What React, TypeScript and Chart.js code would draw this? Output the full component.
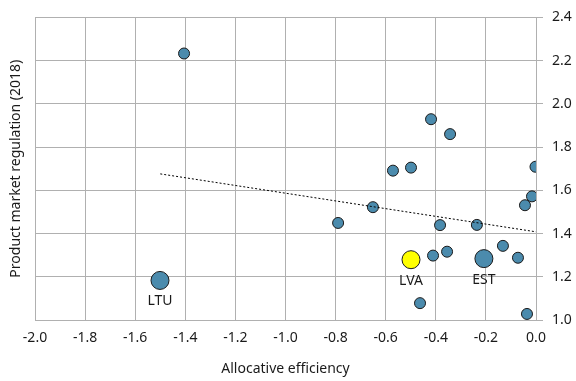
import React, { useEffect, useRef } from "react";
import { Chart, registerables } from "chart.js";

Chart.register(...registerables);

const smallX = [-1.405, -0.419, -0.343, -0.571, -0.499, -0.002, -0.79, -0.651, -0.383, -0.236, -0.044, -0.016, -0.132, -0.411, -0.355, -0.072, -0.463, -0.036];
const smallY = [2.233, 1.929, 1.86, 1.691, 1.705, 1.709, 1.449, 1.522, 1.439, 1.44, 1.531, 1.572, 1.343, 1.298, 1.316, 1.288, 1.078, 1.028];

const bigLabels = ["LTU", "EST"];
const bigX = [-1.501, -0.208];
const bigY = [1.183, 1.284];

const lvaLabel = "LVA";
const lvaX = [-0.499];
const lvaY = [1.279];

const trendX = [-1.5, 0.0];
const trendY = [1.676, 1.408];

const xTicks = [-2.0, -1.8, -1.6, -1.4, -1.2, -1.0, -0.8, -0.6, -0.4, -0.2, 0.0];
const yTicks = [1.0, 1.2, 1.4, 1.6, 1.8, 2.0, 2.2, 2.4];

const FONT = "'Noto Sans', 'Open Sans', sans-serif";
const TEXT = "#1a1a1a";
const GRID = "#b0b0b0";
const BLUE = "rgb(75,139,173)";
const FS = 14;

const labelPlugin = {
  id: "pointLabels",
  afterDatasetsDraw(chart: any) {
    const ctx = chart.ctx;
    const xs = chart.scales.x;
    const ys = chart.scales.y;
    ctx.save();
    ctx.font = `${FS}px ${FONT}`;
    ctx.fillStyle = TEXT;
    ctx.textAlign = "center";
    ctx.textBaseline = "middle";
    const items: [string, number, number][] = [];
    bigLabels.forEach((l, i) => items.push([l, bigX[i], bigY[i]]));
    items.push([lvaLabel, lvaX[0], lvaY[0]]);
    items.forEach(([l, x, y]) => {
      ctx.fillText(l, xs.getPixelForValue(x), ys.getPixelForValue(y) + 21);
    });
    ctx.restore();
  },
};

export default function App() {
  const ref = useRef<HTMLCanvasElement>(null);
  useEffect(() => {
    document.body.style.margin = "0";
    const chart = new Chart(ref.current!, {
      type: "scatter",
      data: {
        datasets: [
          {
            type: "line",
            data: trendX.map((x, i) => ({ x, y: trendY[i] })),
            borderColor: "#000",
            borderWidth: 1,
            borderDash: [2, 2],
            pointRadius: 0,
            fill: false,
            order: 0,
          } as any,
          {
            data: smallX.map((x, i) => ({ x, y: smallY[i] })),
            backgroundColor: BLUE,
            borderColor: "#1a1a1a",
            borderWidth: 1,
            pointRadius: 5.5,
            order: 1,
          },
          {
            data: bigX.map((x, i) => ({ x, y: bigY[i] })),
            backgroundColor: BLUE,
            borderColor: "#1a1a1a",
            borderWidth: 1,
            pointRadius: 9,
            order: 1,
          },
          {
            data: lvaX.map((x, i) => ({ x, y: lvaY[i] })),
            backgroundColor: "#ffff00",
            borderColor: "#1a1a1a",
            borderWidth: 1,
            pointRadius: 9,
            order: 1,
          },
        ],
      },
      options: {
        animation: false,
        responsive: false,
        maintainAspectRatio: false,
        layout: { padding: { top: 14, left: 0, right: 0, bottom: 0 } },
        plugins: { legend: { display: false }, tooltip: { enabled: false } },
        scales: {
          x: {
            type: "linear",
            min: -2,
            max: 0,
            afterBuildTicks: (s: any) => {
              s.ticks = xTicks.map((v) => ({ value: v }));
            },
            afterFit: (s: any) => {
              s.height = 61;
            },
            grid: { color: GRID, drawTicks: false, lineWidth: 1 },
            border: { color: GRID },
            ticks: {
              color: TEXT,
              font: { family: FONT, size: FS },
              padding: 10,
              callback: (v: any) => Number(v).toFixed(1),
            },
            title: {
              display: true,
              text: "Allocative efficiency",
              color: TEXT,
              font: { family: FONT, size: FS },
              padding: { top: 4, bottom: 4 },
            },
          },
          y: {
            type: "linear",
            position: "right",
            min: 1,
            max: 2.4,
            afterBuildTicks: (s: any) => {
              s.ticks = yTicks.map((v) => ({ value: v }));
            },
            afterFit: (s: any) => {
              s.width = 40;
            },
            grid: { color: GRID, drawTicks: true, tickLength: 7, lineWidth: 1 },
            border: { color: GRID },
            ticks: {
              color: TEXT,
              font: { family: FONT, size: FS },
              padding: 9,
              callback: (v: any) => Number(v).toFixed(1),
            },
          },
          yl: {
            type: "linear",
            position: "left",
            min: 1,
            max: 2.4,
            afterFit: (s: any) => {
              s.width = 35;
            },
            grid: { display: false },
            border: { display: false },
            ticks: { display: false },
            title: {
              display: true,
              text: "Product market regulation (2018)",
              color: TEXT,
              font: { family: FONT, size: FS },
              padding: { top: 8, bottom: 4 },
            },
          },
        },
      } as any,
      plugins: [labelPlugin],
    });
    return () => chart.destroy();
  }, []);
  return (
    <div style={{ width: 576, height: 381 }}>
      <canvas ref={ref} width={576} height={381} style={{ display: "block" }} />
    </div>
  );
}
